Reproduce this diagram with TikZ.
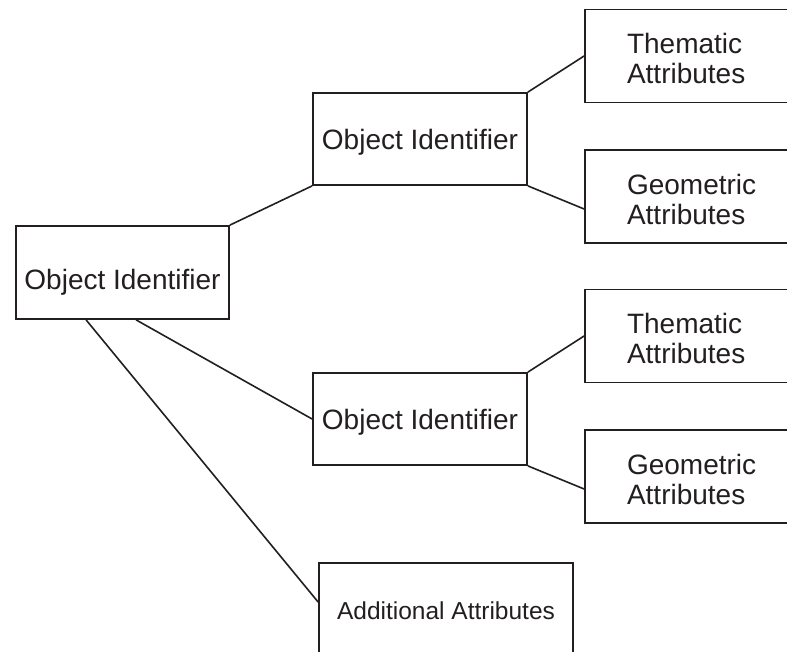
\documentclass[tikz,border=0pt]{standalone}
\usepackage{fontspec}
\setmainfont{Liberation Sans}
\definecolor{ink}{HTML}{231F20}
\begin{document}
\begin{tikzpicture}[x=1pt,y=-1pt,
  box/.style={draw=ink, line width=1.8pt, rectangle, inner sep=0pt,
    font=\fontsize{28}{30}\selectfont, text=ink},
  objbox/.style={box, minimum width=214pt, minimum height=92pt, text height=21pt, text depth=0pt},
  leafbox/.style={box, minimum width=214pt, minimum height=93pt, inner xsep=42pt, text width=130pt, align=left},
  addbox/.style={box, minimum width=254pt, minimum height=92pt, font=\fontsize{24.5}{28}\selectfont, text height=21.5pt, text depth=0pt},
  link/.style={draw=ink, line width=1.6pt}]
\fill[white] (0,0) rectangle (787,652);
\clip (0,0) rectangle (787,652);
\node[objbox, minimum width=213pt, minimum height=93pt, text height=34pt] (root) at (122.5,272.5) {Object Identifier};
\node[objbox] (mid1) at (420,139) {Object Identifier};
\node[objbox] (mid2) at (420,419) {Object Identifier};
\node[leafbox] (leaf1) at (692,56) {\rule{0pt}{26pt}Thematic\\Attributes};
\node[leafbox] (leaf2) at (692,196.5) {\rule{0pt}{26pt}Geometric\\Attributes};
\node[leafbox] (leaf3) at (692,336) {\rule{0pt}{26pt}Thematic\\Attributes};
\node[leafbox] (leaf4) at (692,476.5) {\rule{0pt}{26pt}Geometric\\Attributes};
\node[addbox] (add) at (446,609) {Additional Attributes};
\draw[link] (root.north east) -- (mid1.south west);
\draw[link] ([xshift=121pt]root.south west) -- (mid2.west);
\draw[link] ([xshift=71pt]root.south west) -- ([yshift=7pt]add.west);
\draw[link] (mid1.north east) -- (leaf1.west);
\draw[link] (mid1.south east) -- ([yshift=-12.5pt]leaf2.west);
\draw[link] (mid2.north east) -- (leaf3.west);
\draw[link] (mid2.south east) -- ([yshift=-12.5pt]leaf4.west);
\end{tikzpicture}
\end{document}
